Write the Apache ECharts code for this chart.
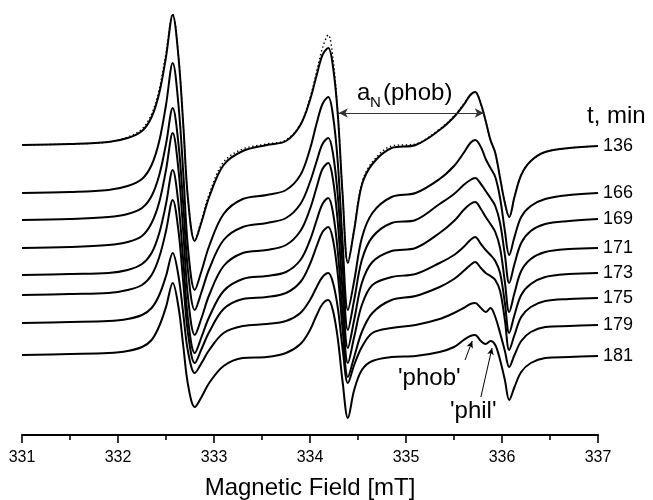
<!DOCTYPE html>
<html>
<head>
<meta charset="utf-8">
<script src="https://cdn.jsdelivr.net/npm/echarts@6/dist/echarts.min.js"></script>
<style>
  html, body { margin: 0; padding: 0; background: #fff; }
  #chart { width: 653px; height: 500px; }
</style>
</head>
<body>
<div id="chart"></div>
<script>
// Magnetic field sampling points [mT]
const field = [331.0, 331.5, 331.9, 332.1, 332.25, 332.35, 332.43, 332.5, 332.57, 332.63,
  332.68, 332.73, 332.80, 332.87, 332.95, 333.1, 333.3, 333.55, 333.75, 333.9,
  334.0, 334.07, 334.13, 334.19, 334.24, 334.29, 334.34, 334.395, 334.46, 334.54,
  334.65, 334.85, 335.1, 335.35, 335.5, 335.6, 335.67, 335.72, 335.78, 335.83,
  335.88, 335.93, 335.98, 336.03, 336.075, 336.13, 336.2, 336.3, 336.45, 336.7, 337.0];

// Time labels (min) and vertical stacking offsets of each spectrum (a.u.)
const times = ['136', '166', '169', '171', '173', '175', '179', '181'];
const offsets = [290, 242, 215, 187, 160, 140, 112, 80];

// First-derivative EPR signal of each spectrum (a.u., relative to its offset)
const s136 = [0, 1, 3, 7, 14, 28, 52, 88, 130, 88, 20, -55, -96, -77, -52, -20, -6,
  0, 4, 20, 45, 70, 90, 97, 78, 30, -50, -118, -85, -40, -19, -3,
  0, 15, 28, 40, 50, 53, 41, 24, 5, -8, -33, -58, -72, -52, -30, -16, -7, -3, -1];
const s166 = [0, 1, 3, 7, 14, 28, 52, 88, 130, 88, 20, -56, -97, -78, -53, -21, -6,
  -2, 3, 18, 44, 70, 89, 96, 77, 30, -50, -117, -88, -45, -20, -4,
  0, 14, 27, 40, 50, 53, 46, 34, 25, 16, -5, -38, -62, -44, -24, -13, -6, -2, 0];
const s169 = [0, 1, 3, 6, 12, 24, 45, 76, 112, 76, 15, -52, -90, -72, -49, -20, -7,
  -3, 2, 16, 38, 59, 76, 82, 66, 24, -46, -110, -80, -40, -17, -3,
  0, 16, 26, 35, 40, 42, 36, 29, 22, 14, -3, -35, -63, -44, -23, -11, -4, -1, 1];
const s171 = [0, 1, 3, 6, 12, 25, 46, 78, 115, 78, 16, -50, -87, -70, -47, -18, -5,
  -2, 3, 17, 39, 61, 79, 85, 68, 25, -43, -100, -72, -35, -14, -3,
  0, 15, 27, 38, 44, 46, 39, 31, 24, 16, 0, -34, -64, -45, -23, -11, -4, -1, 0];
const s173 = [0, 1, 2, 5, 11, 22, 42, 71, 105, 71, 14, -45, -78, -62, -42, -16, -4,
  -1, 3, 15, 35, 55, 71, 77, 62, 23, -38, -88, -62, -30, -10, -2,
  1, 12, 20, 28, 35, 38, 31, 25, 20, 14, 2, -28, -58, -40, -20, -9, -2, 1, 2];
const s175 = [0, 1, 2, 5, 10, 20, 38, 64, 95, 64, 12, -39, -68, -54, -37, -14, -4,
  -2, 2, 13, 31, 49, 63, 68, 55, 20, -35, -82, -62, -37, -18, -5,
  -1, 8, 16, 24, 30, 33, 27, 22, 19, 15, 4, -25, -55, -40, -22, -12, -6, -4, -3];
const s179 = [0, 1, 2, 4, 8, 15, 28, 47, 70, 47, 9, -29, -50, -40, -27, -10, -3,
  -1, 2, 10, 23, 36, 46, 50, 40, 15, -26, -60, -42, -24, -10, -5,
  -2, 4, 10, 15, 19, 20, 15, 11, 15, 6, -10, -28, -44, -32, -18, -9, -4, -3, -2];
const s181 = [0, 1, 2, 4, 8, 15, 29, 48, 72, 48, 9, -30, -52, -42, -28, -11, -3,
  -2, 2, 11, 25, 40, 51, 55, 44, 16, -27, -63, -35, -15, -6, -2,
  -1, 3, 8, 15, 19, 20, 14, 11, 14, 10, -5, -25, -45, -32, -17, -8, -3, -2, -1];
// Simulated spectrum for t = 136 min (dotted)
const fit136 = [0, 1, 3, 8, 16, 31, 56, 92, 131, 89, 20, -55, -95, -75, -49, -17, -4,
  1, 5, 21, 47, 74, 97, 110, 86, 32, -50, -118, -84, -38, -17, -1,
  1, 16, 29, 41, 50, 53, 41, 24, 5, -8, -33, -58, -72, -52, -30, -16, -7, -3, -1];

const spectra = [s136, s166, s169, s171, s173, s175, s179, s181];

const FONT = 'Liberation Sans, Arial, Helvetica, sans-serif';

function pairs(signal, offset) {
  return field.map((b, i) => [b, offset + signal[i]]);
}

const series = spectra.map((sig, k) => ({
  type: 'line',
  name: times[k],
  data: pairs(sig, offsets[k]),
  showSymbol: false,
  smooth: 0.35,
  lineStyle: { color: '#000', width: 2 },
  endLabel: {
    show: true,
    formatter: times[k],
    color: '#000',
    fontSize: 18,
    fontFamily: FONT,
    distance: 5
  },
  z: 3
}));

series.push({
  type: 'line',
  name: 'fit 136',
  data: pairs(fit136, offsets[0]),
  showSymbol: false,
  smooth: 0.35,
  lineStyle: { color: '#000', width: 1.4, type: [1.4, 2.6] },
  z: 2
});

// hyperfine splitting a_N (phob) marker
series[0].markLine = {
  silent: true,
  symbol: ['arrow', 'arrow'],
  symbolSize: [7, 9],
  label: { show: false },
  lineStyle: { color: '#333', width: 1.2, type: 'solid' },
  data: [[{ coord: [334.30, 322] }, { coord: [335.81, 322] }]]
};
// 'phob' / 'phil' component pointers on the last spectrum
series[7].markLine = {
  silent: true,
  symbol: ['none', 'arrow'],
  symbolSize: [5, 7],
  label: { show: false },
  lineStyle: { color: '#000', width: 1, type: 'solid' },
  data: [
    [{ coord: [335.615, 75] }, { coord: [335.69, 94] }],
    [{ coord: [335.78, 38] }, { coord: [335.896, 87] }]
  ]
};

const chart = echarts.init(document.getElementById('chart'), null, { renderer: 'canvas' });
chart.setOption({
  animation: false,
  backgroundColor: '#fff',
  grid: { left: 22, right: 55, top: 0, bottom: 65, containLabel: false, outerBoundsMode: 'none' },
  xAxis: {
    type: 'value',
    min: 331, max: 337, interval: 1,
    name: 'Magnetic Field [mT]',
    nameLocation: 'middle',
    nameGap: 41,
    nameTextStyle: { color: '#000', fontSize: 24, fontFamily: FONT },
    axisLine: { show: true, onZero: false, lineStyle: { color: '#000', width: 2 } },
    axisTick: { show: true, inside: false, length: 8, lineStyle: { color: '#000', width: 1.6 } },
    minorTick: { show: true, splitNumber: 2, length: 5, lineStyle: { color: '#000', width: 1.6 } },
    axisLabel: { color: '#000', fontSize: 16, fontFamily: FONT, margin: 15 },
    splitLine: { show: false },
    minorSplitLine: { show: false }
  },
  yAxis: {
    type: 'value', min: 0, max: 435, show: false
  },
  graphic: [
    { type: 'text', x: 587, y: 116, style: { text: 't, min', fontSize: 24, fontFamily: FONT, fill: '#000', align: 'left', verticalAlign: 'middle' } },
    { type: 'text', x: 357, y: 93, style: { text: 'a', fontSize: 24, fontFamily: FONT, fill: '#000', align: 'left', verticalAlign: 'middle' } },
    { type: 'text', x: 370, y: 103, style: { text: 'N', fontSize: 15, fontFamily: FONT, fill: '#000', align: 'left', verticalAlign: 'middle' } },
    { type: 'text', x: 383, y: 93, style: { text: '(phob)', fontSize: 24, fontFamily: FONT, fill: '#000', align: 'left', verticalAlign: 'middle' } },
    { type: 'text', x: 398, y: 378, style: { text: "'phob'", fontSize: 24, fontFamily: FONT, fill: '#000', align: 'left', verticalAlign: 'middle' } },
    { type: 'text', x: 450, y: 411, style: { text: "'phil'", fontSize: 24, fontFamily: FONT, fill: '#000', align: 'left', verticalAlign: 'middle' } }
  ],
  series: series
});
</script>
</body>
</html>
